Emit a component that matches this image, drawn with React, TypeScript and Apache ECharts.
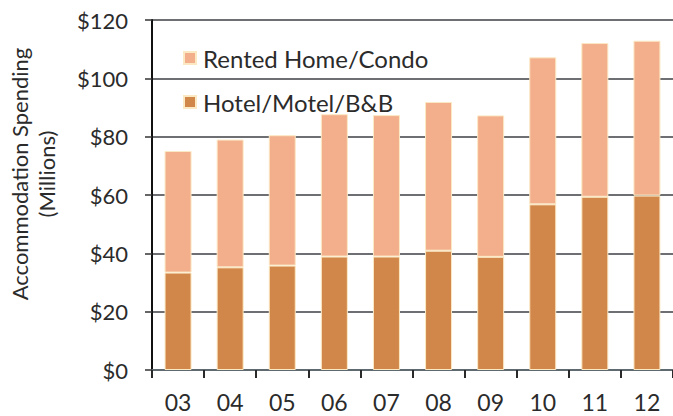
import React, { useEffect, useRef } from "react";
import * as echarts from "echarts";

const categories = ["03", "04", "05", "06", "07", "08", "09", "10", "11", "12"];
const hotelValues = [33.4, 35.2, 35.8, 38.9, 38.9, 40.9, 38.8, 56.8, 59.4, 59.8];
const rentedValues = [41.7, 43.8, 44.7, 48.8, 48.5, 51.0, 48.5, 50.4, 52.7, 53.1];
const yTicks = { min: 0, max: 120, interval: 20 };

const FONT = "Lato";
const TEXT = "#2b2b2b";

export default function App() {
  const ref = useRef<HTMLDivElement>(null);
  useEffect(() => {
    if (!ref.current) return;
    const chart = echarts.init(ref.current, null, { renderer: "svg" });
    chart.setOption({
      animation: false,
      backgroundColor: "#ffffff",
      textStyle: { fontFamily: FONT },
      grid: { left: 152, top: 20, width: 526, height: 350 },
      legend: {
        orient: "vertical",
        left: 178,
        top: 41,
        itemWidth: 12,
        itemHeight: 12,
        itemGap: 20,
        icon: "rect",
        data: ["Rented Home/Condo", "Hotel/Motel/B&B"],
        textStyle: { fontFamily: FONT, fontSize: 24, color: TEXT, lineHeight: 24, padding: [0, 0, 0, 2] },
      },
      xAxis: {
        type: "category",
        data: categories,
        axisLine: { show: true, lineStyle: { color: "#5f6a70", width: 2 } },
        axisTick: { show: true, length: 8, lineStyle: { color: "#2a2a2a", width: 2 } },
        axisLabel: { fontFamily: FONT, fontSize: 23, color: TEXT, margin: 20, lineHeight: 23 },
        splitLine: { show: false },
      },
      yAxis: {
        type: "value",
        min: yTicks.min,
        max: yTicks.max,
        interval: yTicks.interval,
        axisLine: { show: true, lineStyle: { color: "#111", width: 2 } },
        axisTick: { show: true, length: 7, lineStyle: { color: "#333", width: 1.5 } },
        axisLabel: {
          fontFamily: FONT,
          fontSize: 22,
          color: TEXT,
          margin: 24,
          formatter: (v: number) => "$" + v,
        },
        splitLine: { show: true, lineStyle: { color: "#3c3f44", width: 1.5 } },
      },
      graphic: [
        {
          type: "text",
          x: 33,
          y: 174,
          rotation: Math.PI / 2,
          style: {
            text: "Accommodation Spending\n(Millions)",
            fontFamily: FONT,
            fontSize: 22,
            lineHeight: 27,
            fill: TEXT,
            align: "center",
            verticalAlign: "middle",
          },
        },
      ],
      series: [
        {
          name: "Hotel/Motel/B&B",
          type: "bar",
          stack: "total",
          barWidth: 27,
          data: hotelValues,
          itemStyle: { color: "#d2874a", borderColor: "#fbe9c4", borderWidth: 1 },
        },
        {
          name: "Rented Home/Condo",
          type: "bar",
          stack: "total",
          barWidth: 27,
          data: rentedValues,
          itemStyle: { color: "#f3ae8c", borderColor: "#fbe9c4", borderWidth: 1 },
        },
      ],
    });
    return () => chart.dispose();
  }, []);
  return <div ref={ref} style={{ width: 673, height: 416, position: "fixed", left: 0, top: 0 }} />;
}
